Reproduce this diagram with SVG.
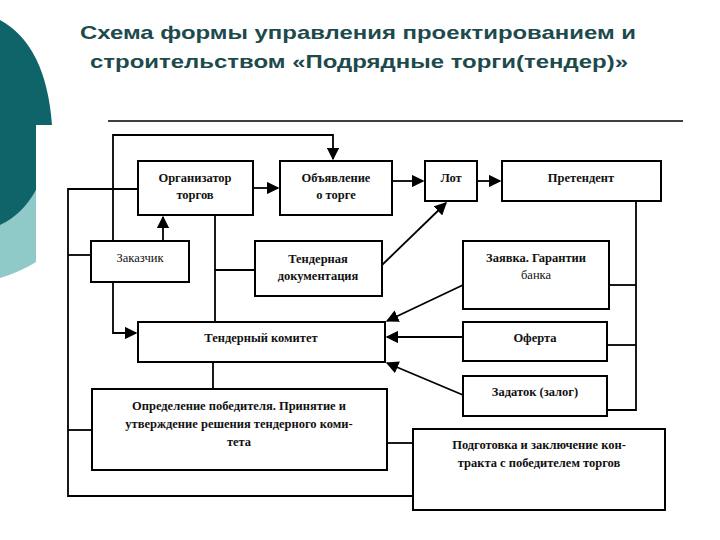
<svg xmlns="http://www.w3.org/2000/svg" width="720" height="540" viewBox="0 0 720 540">
<style>
.b{fill:#fff;stroke:#000;stroke-width:2}
.t{font-family:"Liberation Serif",serif;font-size:12.5px;font-weight:bold;text-anchor:middle;fill:#111}
.n{font-weight:normal}
.l{fill:none;stroke:#000;stroke-width:1.8}
.h{font-family:"Liberation Sans",Arial,sans-serif;font-size:19px;font-weight:bold;fill:#1d4a4c}
</style>
<defs><marker id="a" viewBox="0 0 10 10" refX="9" refY="5" markerWidth="7" markerHeight="7" orient="auto"><path d="M0,0L10,5L0,10z" fill="#000"/></marker></defs>
<rect width="720" height="540" fill="#fff"/>
<path d="M0,185H36V262Q20,272 0,278z" fill="#8fc9c8"/>
<path d="M0,20Q46,45 52,125H36V190Q22,215 0,225z" fill="#0e6468"/>
<text class="h" x="80" y="39" textLength="556" lengthAdjust="spacingAndGlyphs">Схема формы управления проектированием и</text>
<text class="h" x="90" y="68" textLength="538" lengthAdjust="spacingAndGlyphs">строительством «Подрядные торги(тендер)»</text>
<line x1="108" y1="121" x2="683" y2="121" stroke="#000" stroke-width="1.5"/>
<g id="connectors">
<path class="l" d="M113,241V135H333V159" marker-end="url(#a)"/>
<path class="l" d="M163,241V217" marker-end="url(#a)"/>
<path class="l" d="M253,188H278" marker-end="url(#a)"/>
<path class="l" d="M392,181H423" marker-end="url(#a)"/>
<path class="l" d="M477,181H500" marker-end="url(#a)"/>
<path class="l" d="M138,189H68V496H413"/>
<path class="l" d="M91,255H68"/>
<path class="l" d="M92,430H68"/>
<path class="l" d="M113,282V333H136" marker-end="url(#a)"/>
<path class="l" d="M215,215V322"/>
<path class="l" d="M215,270H255"/>
<path class="l" d="M213,362V389"/>
<path class="l" d="M382,265L446,203" marker-end="url(#a)"/>
<path class="l" d="M463,285L387,321" marker-end="url(#a)"/>
<path class="l" d="M463,337H387" marker-end="url(#a)"/>
<path class="l" d="M463,395L387,363" marker-end="url(#a)"/>
<path class="l" d="M636,201V410H607"/>
<path class="l" d="M609,285H636"/>
<path class="l" d="M607,345H636"/>
<path class="l" d="M387,443H413"/>
</g>
<g id="org"><rect class="b" x="138" y="161" width="115" height="54"/><text class="t" x="195" y="182">Организатор</text><text class="t" x="195" y="199">торгов</text></g>
<g id="obyav"><rect class="b" x="280" y="161" width="112" height="54"/><text class="t" x="336" y="182">Объявление</text><text class="t" x="336" y="199">о торге</text></g>
<g id="lot"><rect class="b" x="425" y="161" width="52" height="40"/><text class="t" x="451" y="182">Лот</text></g>
<g id="pret"><rect class="b" x="502" y="161" width="159" height="40"/><text class="t" x="581" y="182">Претендент</text></g>
<g id="zak"><rect class="b" x="91" y="241" width="98" height="41"/><text class="t n" x="140" y="262">Заказчик</text></g>
<g id="tdoc"><rect class="b" x="255" y="241" width="127" height="55"/><text class="t" x="318" y="263">Тендерная</text><text class="t" x="318" y="280">документация</text></g>
<g id="zayav"><rect class="b" x="463" y="241" width="146" height="68"/><text class="t" x="536" y="262">Заявка. Гарантии</text><text class="t n" x="536" y="279">банка</text></g>
<g id="kom"><rect class="b" x="138" y="322" width="247" height="40"/><text class="t" x="261" y="342">Тендерный комитет</text></g>
<g id="ofer"><rect class="b" x="463" y="322" width="144" height="39"/><text class="t" x="535" y="342">Оферта</text></g>
<g id="zad"><rect class="b" x="463" y="376" width="144" height="40"/><text class="t" x="535" y="396">Задаток (залог)</text></g>
<g id="opr"><rect class="b" x="92" y="389" width="295" height="81"/><text class="t" x="239" y="410">Определение победителя. Принятие и</text><text class="t" x="239" y="428">утверждение решения тендерного коми-</text><text class="t" x="239" y="446">тета</text></g>
<g id="podg"><rect class="b" x="413" y="429" width="252" height="81"/><text class="t" x="539" y="449">Подготовка и заключение кон-</text><text class="t" x="539" y="467">тракта с победителем торгов</text></g>
</svg>
